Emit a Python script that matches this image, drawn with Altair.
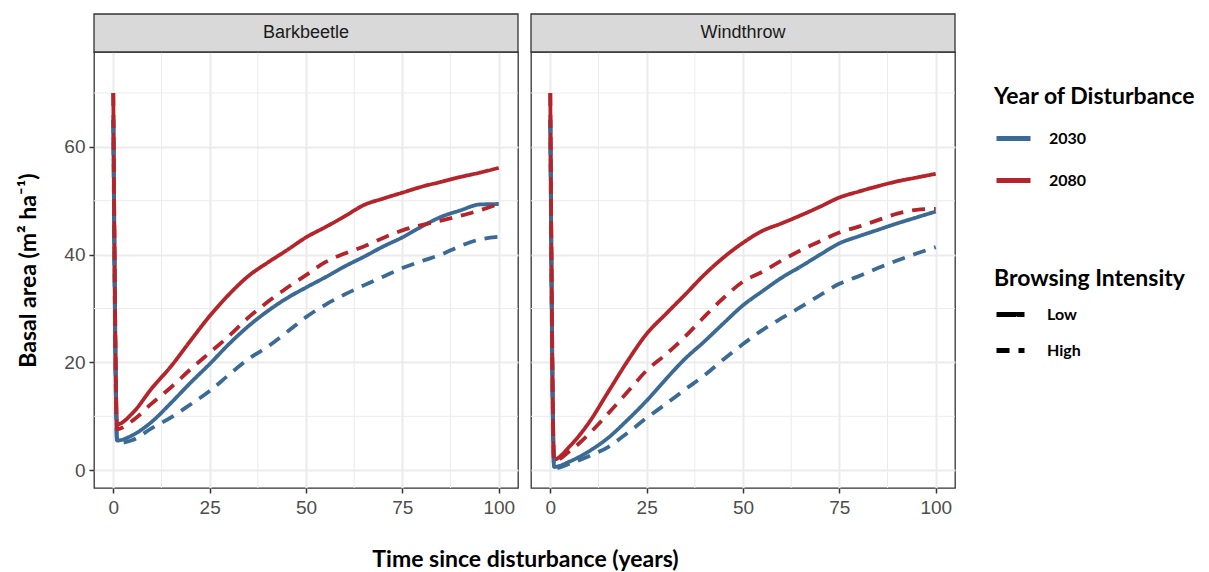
import altair as alt
import pandas as pd

TIME = [0, 1, 5, 10, 15, 20, 25, 30, 35, 40, 45, 50, 55, 60, 65, 70, 75, 80, 85, 90, 95, 100]
PANELS = ["Barkbeetle", "Windthrow"]
YEARS = ["2030", "2080"]
BROWSING = ["Low", "High"]

BB_2030_LOW = [65, 5.5, 6.5, 9, 12.5, 16.2, 19.7, 23.4, 26.7, 29.5, 31.9, 33.9, 35.8, 37.8, 39.6, 41.5, 43.2, 45.2, 47, 48.2, 49.3, 49.4]
BB_2030_HIGH = [65, 5, 5.6, 7.8, 9.8, 12.2, 14.7, 17.7, 20.6, 22.9, 25.6, 28.4, 30.7, 32.6, 34.3, 35.9, 37.5, 38.8, 40, 41.6, 42.8, 43.3]
BB_2080_LOW = [70, 8.5, 10.6, 15.2, 19.3, 24, 28.6, 32.6, 36, 38.5, 40.8, 43.2, 45.1, 47.1, 49.2, 50.4, 51.5, 52.6, 53.5, 54.4, 55.2, 56.1]
BB_2080_HIGH = [70, 7.6, 9.2, 12.4, 15.4, 18.7, 21.8, 24.9, 28.3, 31.2, 33.8, 36.2, 38.6, 40.2, 41.5, 43.1, 44.5, 45.5, 46.3, 47.2, 48.2, 49.4]

WT_2030_LOW = [65, 0.6, 1.6, 3.5, 6, 9.3, 12.9, 16.9, 20.7, 23.9, 27.3, 30.6, 33.2, 35.7, 37.8, 40, 42.1, 43.4, 44.6, 45.8, 46.9, 48]
WT_2030_HIGH = [65, 0.3, 1.2, 2.6, 4.3, 6.9, 9.7, 12.3, 15, 17.6, 20.6, 23.4, 26, 28.2, 30.3, 32.5, 34.6, 36, 37.5, 38.9, 40.2, 41.4]
WT_2080_LOW = [70, 2, 4.4, 8.8, 14.5, 20.2, 25.3, 29, 32.6, 36.3, 39.5, 42.2, 44.4, 45.8, 47.3, 48.9, 50.6, 51.7, 52.7, 53.6, 54.3, 55]
WT_2080_HIGH = [70, 1.7, 3.5, 6.7, 10.5, 14.5, 18.5, 21.5, 24.8, 28.5, 32, 35, 36.8, 38.9, 40.8, 42.5, 44.1, 45.2, 46.4, 47.6, 48.3, 48.5]

X_MAJOR = [0, 25, 50, 75, 100]
X_MINOR = [12.5, 37.5, 62.5, 87.5]
Y_MAJOR = [0, 20, 40, 60]
Y_MINOR = [10, 30, 50, 70]

SERIES = [
    ("Barkbeetle", "2030", "Low", BB_2030_LOW),
    ("Barkbeetle", "2080", "Low", BB_2080_LOW),
    ("Barkbeetle", "2030", "High", BB_2030_HIGH),
    ("Barkbeetle", "2080", "High", BB_2080_HIGH),
    ("Windthrow", "2030", "Low", WT_2030_LOW),
    ("Windthrow", "2080", "Low", WT_2080_LOW),
    ("Windthrow", "2030", "High", WT_2030_HIGH),
    ("Windthrow", "2080", "High", WT_2080_HIGH),
]

rows = []
for panel, year, brow, vals in SERIES:
    for t, v in zip(TIME, vals):
        rows.append({"panel": panel, "year": year, "browsing": brow, "time": t, "ba": v})
df = pd.DataFrame(rows)

BLUE = "#3b6b95"
RED = "#b4252b"
W, H, STRIP = 424, 436, 38
GRID = "#ebebeb"
TICK_FONT = "Liberation Sans"
BOLD_FONT = "Lato"
TITLE_SIZE = 23

color_legend = alt.Legend(
    title="Year of Disturbance", orient="none", legendX=900, legendY=34,
    symbolType="stroke", symbolSize=1156, symbolStrokeWidth=5,
    titleFont=BOLD_FONT, titleFontSize=TITLE_SIZE, titleFontWeight="bold", titleColor="black",
    titleLimit=500, labelLimit=300,
    labelFont=BOLD_FONT, labelFontSize=16, labelFontWeight="bold", labelColor="black",
    titlePadding=10, rowPadding=12, labelOffset=16,
)
dash_legend = alt.Legend(
    title="Browsing Intensity", orient="none", legendX=900, legendY=216,
    symbolType="stroke", symbolSize=784, symbolStrokeWidth=5, symbolStrokeColor="black",
    titleFont=BOLD_FONT, titleFontSize=TITLE_SIZE, titleFontWeight="bold", titleColor="black",
    titleLimit=500, labelLimit=300,
    labelFont=BOLD_FONT, labelFontSize=16, labelFontWeight="bold", labelColor="black",
    titlePadding=7, rowPadding=9, labelOffset=20,
)
color_scale = alt.Scale(domain=YEARS, range=[BLUE, RED])
dash_scale = alt.Scale(domain=BROWSING, range=[[1, 0], [13, 9]])
x_scale = alt.Scale(domain=[-5, 105], nice=False, zero=False)
y_scale = alt.Scale(domain=[-3.3, 77.6], nice=False, zero=False)


def make_panel(name, first):
    sub = df[df["panel"] == name]
    common_axis = dict(
        grid=True, gridColor=GRID, gridWidth=2, domain=False,
        tickColor="#333333", tickWidth=1.5, tickSize=5,
        labelFont=TICK_FONT, labelFontSize=19, labelColor="#4d4d4d",
    )
    if first:
        xaxis = alt.Axis(values=X_MAJOR, labelPadding=5, title="Time since disturbance (years)",
                         titleFont=BOLD_FONT, titleFontSize=TITLE_SIZE, titleFontWeight="bold",
                         titleColor="black", titleX=431, titleY=71, titleBaseline="middle",
                         titleAlign="center", **common_axis)
        yaxis = alt.Axis(values=Y_MAJOR, labelPadding=4, title="Basal area (m² ha⁻¹)",
                         titleFont=BOLD_FONT, titleFontSize=TITLE_SIZE, titleFontWeight="bold",
                         titleColor="black", titlePadding=23, **common_axis)
    else:
        xaxis = alt.Axis(values=X_MAJOR, labelPadding=5, title=None, **common_axis)
        yaxis = alt.Axis(values=Y_MAJOR, labels=False, ticks=False, domain=False, title=None,
                         grid=True, gridColor=GRID, gridWidth=2)

    base = alt.Chart(sub)
    x = alt.X("time:Q", scale=x_scale, axis=xaxis)
    y = alt.Y("ba:Q", scale=y_scale, axis=yaxis)
    enc = dict(
        x=x, y=y,
        color=alt.Color("year:N", scale=color_scale, legend=color_legend),
        strokeDash=alt.StrokeDash("browsing:N", scale=dash_scale, legend=dash_legend),
    )
    solid = base.transform_filter(alt.datum.browsing == "Low").mark_line(
        strokeWidth=3.8, strokeCap="butt", interpolate="monotone").encode(**enc)
    dashed = base.transform_filter(alt.datum.browsing == "High").mark_line(
        strokeWidth=3.8, strokeCap="butt", interpolate="monotone").encode(**enc)

    miny = alt.Chart(pd.DataFrame({"ba": Y_MINOR})).mark_rule(
        color=GRID, strokeWidth=1).encode(y=alt.Y("ba:Q", scale=y_scale))
    minx = alt.Chart(pd.DataFrame({"time": X_MINOR})).mark_rule(
        color=GRID, strokeWidth=1).encode(x=alt.X("time:Q", scale=x_scale))

    strip_df = pd.DataFrame({"panel": [name]})
    rect = alt.Chart(strip_df).mark_rect(fill="#d9d9d9", stroke="#333333", strokeWidth=1.3).encode(
        x=alt.value(0), x2=alt.value(W), y=alt.value(-STRIP), y2=alt.value(0))
    txt = alt.Chart(strip_df).mark_text(font=TICK_FONT, fontSize=18, color="#1a1a1a",
                                        baseline="middle", align="center").encode(
        x=alt.value(W / 2), y=alt.value(-STRIP / 2), text="panel:N")

    return alt.layer(miny, minx, solid, dashed, rect, txt).properties(width=W, height=H)


chart = alt.hconcat(
    make_panel(PANELS[0], True), make_panel(PANELS[1], False), spacing=13, bounds="flush"
).properties(padding={"left": 9, "top": 4, "right": 5, "bottom": 5}).configure_view(
    stroke="#333333", strokeWidth=1.3
)

chart.save("out.html", embed_options={"renderer": "svg", "actions": False})
